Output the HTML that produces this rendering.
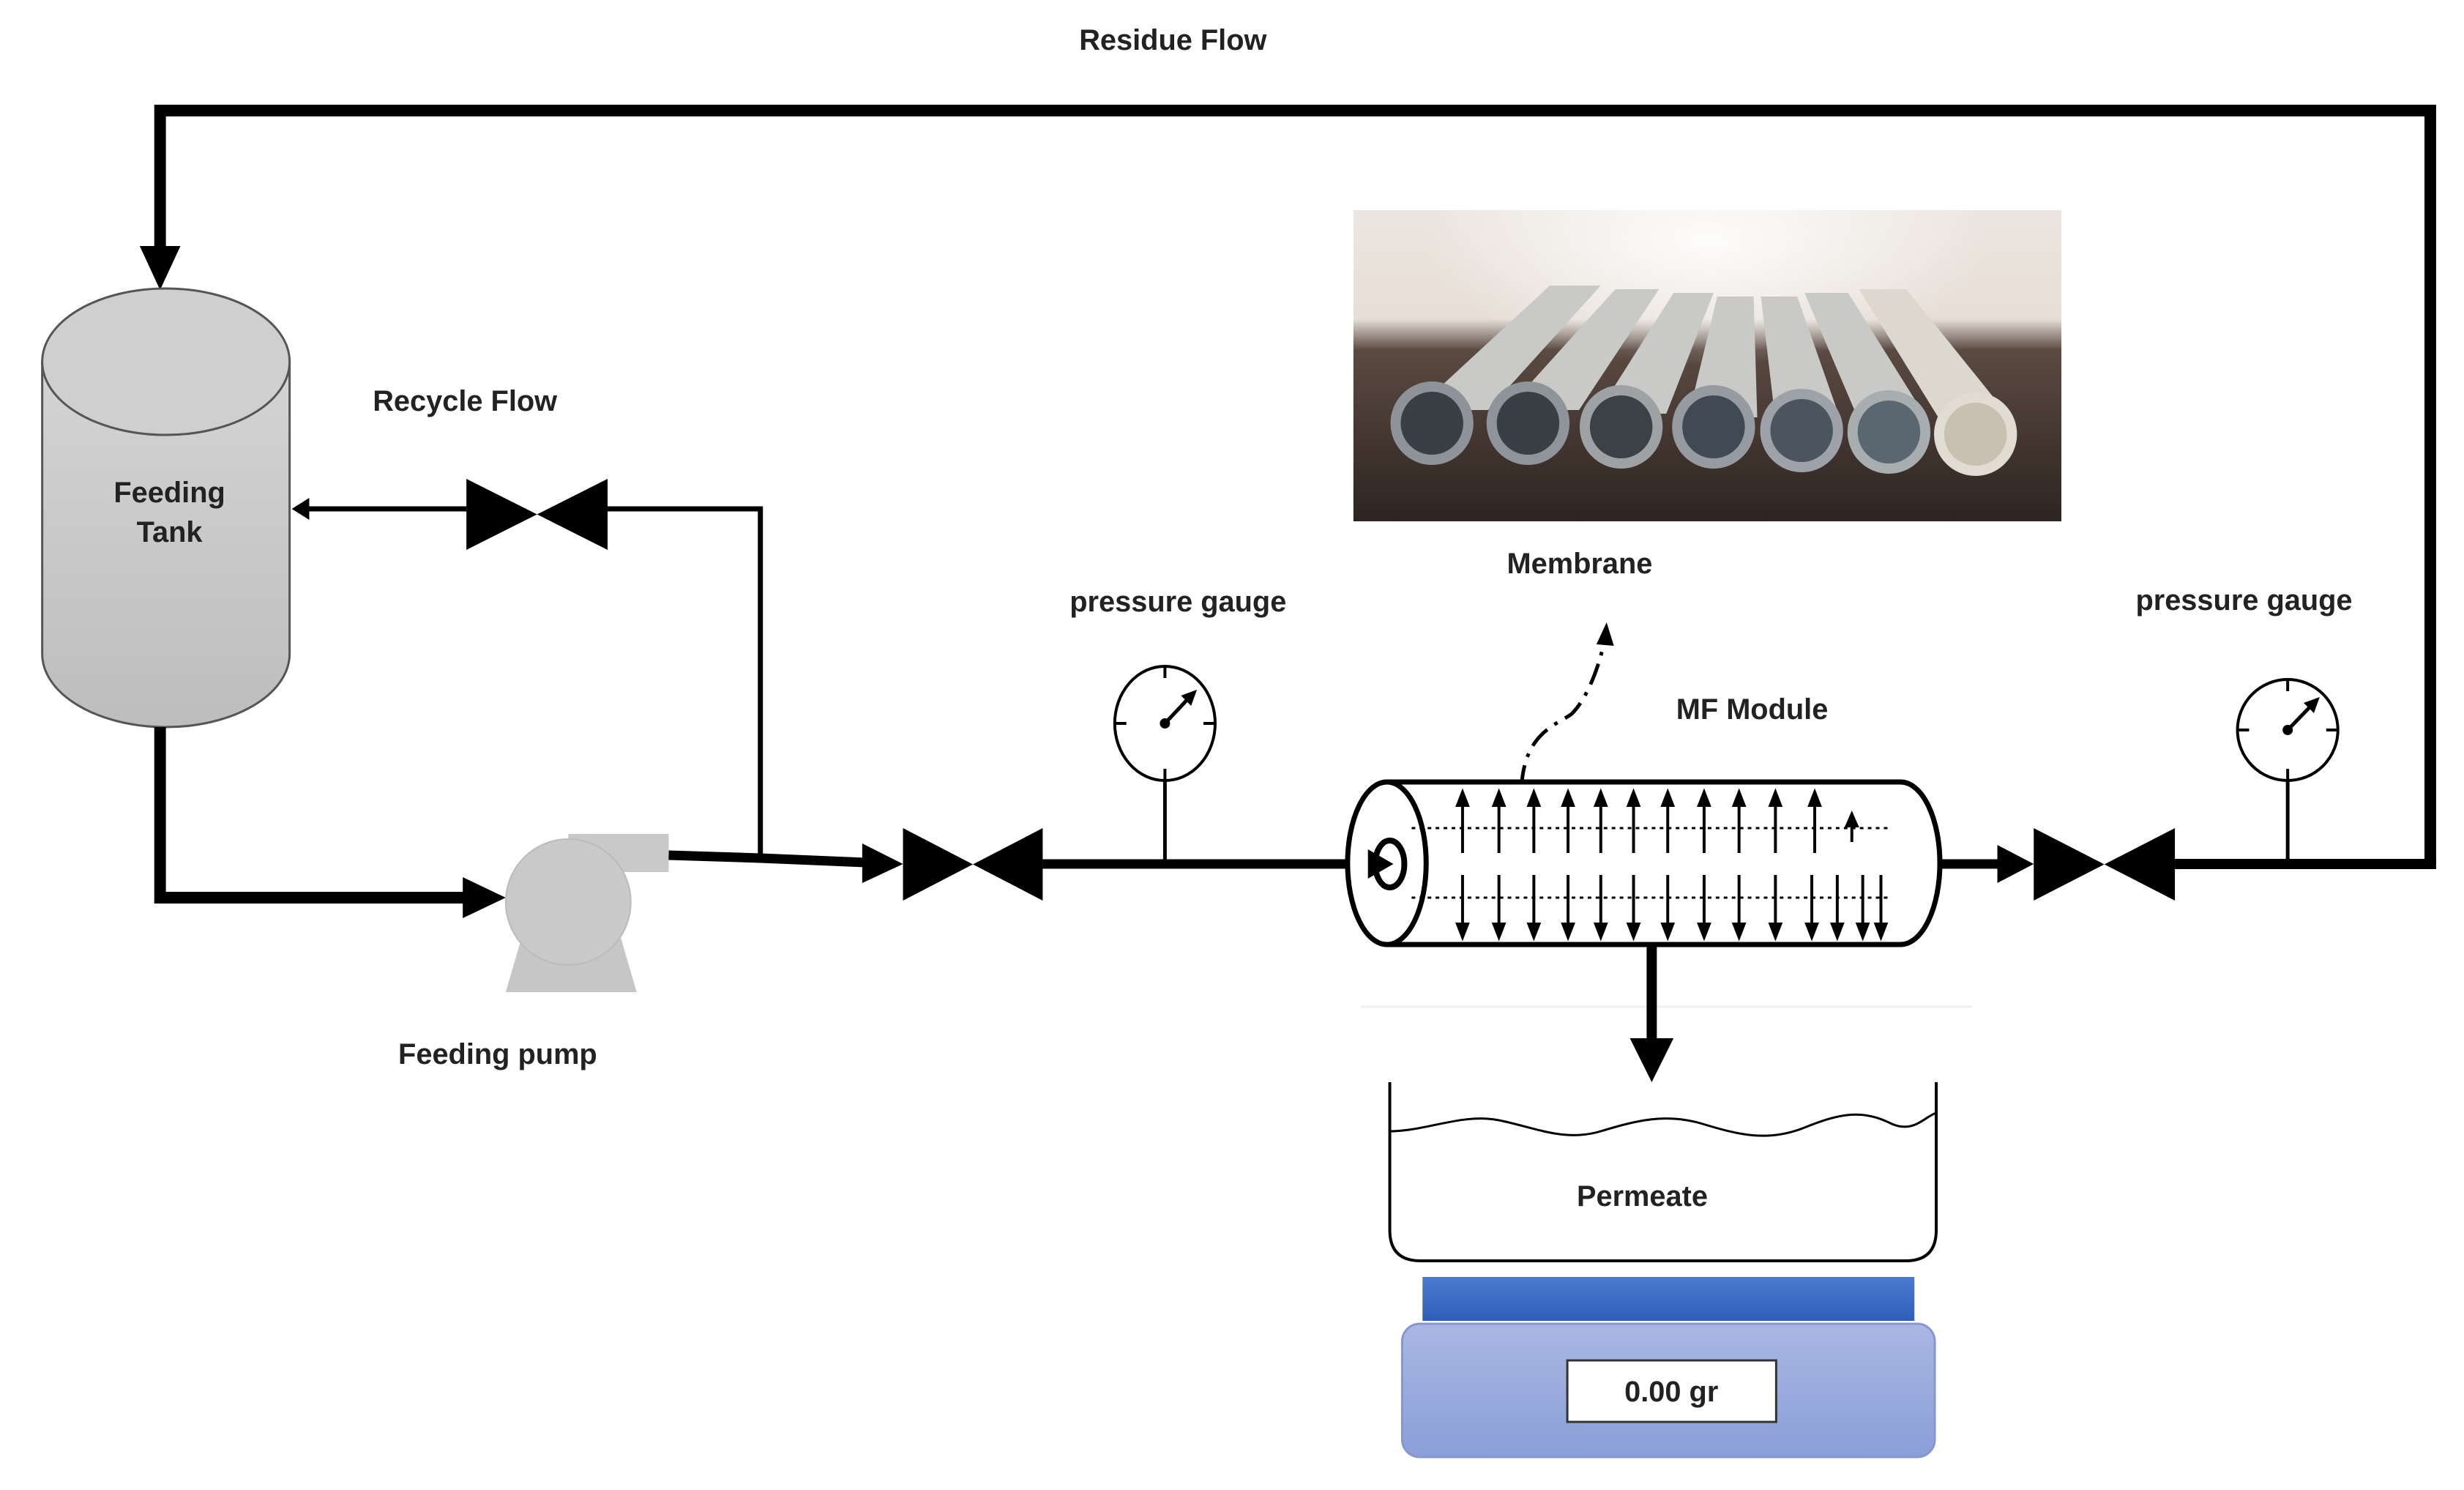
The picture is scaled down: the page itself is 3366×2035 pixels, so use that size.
<!DOCTYPE html>
<html><head><meta charset="utf-8"><style>
html,body{margin:0;padding:0;background:#fff}
svg{display:block}
text{font-family:"Liberation Sans",sans-serif;font-weight:bold;fill:#222}
</style></head><body>
<svg width="3366" height="2035" viewBox="0 0 3366 2035" xmlns="http://www.w3.org/2000/svg">
<defs>
<linearGradient id="tank" x1="0" y1="0" x2="0" y2="1"><stop offset="0" stop-color="#d4d4d4"/><stop offset="1" stop-color="#bdbdbd"/></linearGradient>
<linearGradient id="scale" x1="0" y1="0" x2="0" y2="1"><stop offset="0" stop-color="#a9b7e3"/><stop offset="1" stop-color="#8a9fd8"/></linearGradient>
<linearGradient id="bar" x1="0" y1="0" x2="0" y2="1"><stop offset="0" stop-color="#4a7bd0"/><stop offset="1" stop-color="#2f5fb8"/></linearGradient>
<linearGradient id="photo" x1="0" y1="0" x2="0" y2="1"><stop offset="0" stop-color="#ece6e0"/><stop offset="0.35" stop-color="#e6ded6"/><stop offset="0.45" stop-color="#5a4a42"/><stop offset="1" stop-color="#2e2420"/></linearGradient>
<radialGradient id="glow" cx="0.5" cy="0.1" r="0.4"><stop offset="0" stop-color="#fff" stop-opacity="0.9"/><stop offset="1" stop-color="#fff" stop-opacity="0"/></radialGradient>
</defs>
<g transform="scale(0.994,1)">
<text x="1612" y="68" font-size="40" text-anchor="middle">Residue Flow</text>
<polyline points="3340,1180 3340,151 220,151 220,340" fill="none" stroke="#000" stroke-width="16"/>
<polygon points="192,336 248,336 220,396" fill="#000"/>

<path d="M58,494 L58,893 A170,100 0 0 0 398,893 L398,494 Z" fill="url(#tank)" stroke="#555" stroke-width="3"/>
<ellipse cx="228" cy="494" rx="170" ry="100" fill="#cfcfcf" stroke="#555" stroke-width="3"/>
<text x="233" y="686" font-size="40" text-anchor="middle">Feeding</text>
<text x="233" y="740" font-size="40" text-anchor="middle">Tank</text>

<polyline points="220,993 220,1226 640,1226" fill="none" stroke="#000" stroke-width="16"/>
<polygon points="636,1198 695,1226 636,1254" fill="#000"/>

<polygon points="695,1355 875,1355 850,1270 720,1270" fill="#c6c6c6"/>
<rect x="781" y="1139" width="138" height="52" fill="#c9c9c9"/>
<circle cx="781" cy="1232" r="86" fill="#c9c9c9" stroke="#bbb" stroke-width="2"/>
<text x="684" y="1453" font-size="40" text-anchor="middle">Feeding pump</text>

<polyline points="919,1168 1045,1172 1190,1178" fill="none" stroke="#000" stroke-width="13"/>
<polygon points="1185,1152 1241,1180 1185,1206" fill="#000"/>

<polyline points="1045,1172 1045,695 835,695" fill="none" stroke="#000" stroke-width="7"/>
<line x1="641" y1="695" x2="420" y2="695" stroke="#000" stroke-width="7"/>
<polygon points="425,680 401,695 425,710" fill="#000"/>
<polygon points="641,654 641,751 835,654 835,751" fill="#000"/>
<text x="639" y="561" font-size="40" text-anchor="middle">Recycle Flow</text>

<polygon points="1241,1131 1241,1230 1433,1131 1433,1230" fill="#000"/>
<line x1="1433" y1="1180" x2="1880" y2="1180" stroke="#000" stroke-width="13"/>

<text x="1619" y="835" font-size="40" text-anchor="middle">pressure gauge</text>
<ellipse cx="1601" cy="988" rx="69" ry="78" fill="#fff" stroke="#000" stroke-width="4"/>
<line x1="1601" y1="1066" x2="1601" y2="1180" stroke="#000" stroke-width="5"/>
<line x1="1601" y1="910" x2="1601" y2="926" stroke="#000" stroke-width="4"/>
<line x1="1532" y1="988" x2="1548" y2="988" stroke="#000" stroke-width="4"/>
<line x1="1654" y1="988" x2="1670" y2="988" stroke="#000" stroke-width="4"/>
<line x1="1601" y1="1050" x2="1601" y2="1066" stroke="#000" stroke-width="4"/>
<line x1="1601" y1="988" x2="1635" y2="952" stroke="#000" stroke-width="5"/>
<polygon points="1645,942 1623,950 1637,964" fill="#000"/>
<circle cx="1601" cy="988" r="7" fill="#000"/>

<rect x="1860" y="287" width="973" height="425" fill="url(#photo)"/>
<rect x="1860" y="287" width="973" height="425" fill="url(#glow)"/>
<g fill="#c9c9c7">
<polygon points="1945,560 2045,560 2200,390 2130,390"/>
<polygon points="2070,560 2170,560 2280,395 2220,395"/>
<polygon points="2195,565 2290,565 2355,400 2300,400"/>
<polygon points="2320,570 2415,570 2410,405 2360,405"/>
<polygon points="2440,575 2530,575 2470,405 2420,405"/>
<polygon points="2555,575 2650,575 2540,400 2480,400"/>
<polygon points="2670,580 2770,580 2620,395 2555,395" fill="#dcd8d0"/>
</g>
<g stroke-width="14">
<circle cx="1968" cy="578" r="50" fill="#3a3f44" stroke="#8e9399"/>
<circle cx="2100" cy="578" r="50" fill="#3a3f44" stroke="#8f949a"/>
<circle cx="2228" cy="583" r="50" fill="#3c4146" stroke="#9ea2a4"/>
<circle cx="2355" cy="583" r="50" fill="#404a55" stroke="#969ba2"/>
<circle cx="2476" cy="588" r="50" fill="#4a5560" stroke="#9ca2a8"/>
<circle cx="2596" cy="590" r="50" fill="#5a6670" stroke="#a8adb0"/>
<circle cx="2715" cy="593" r="50" fill="#c8c0b0" stroke="#e0dcd2"/>
</g>
<text x="2171" y="783" font-size="40" text-anchor="middle">Membrane</text>
<text x="2408" y="982" font-size="40" text-anchor="middle">MF Module</text>

<path d="M2091,1075 C2095,1000 2140,990 2160,975 C2185,950 2200,900 2205,875" fill="none" stroke="#000" stroke-width="5" stroke-dasharray="30,12,5,12"/>
<polygon points="2194,880 2208,850 2218,882" fill="#000"/>

<path d="M1906,1068 L2612,1068 A54,111 0 0 1 2612,1290 L1906,1290" fill="#fff" stroke="#000" stroke-width="7"/>
<ellipse cx="1906" cy="1179" rx="54" ry="111" fill="#fff" stroke="#000" stroke-width="7"/>
<ellipse cx="1910" cy="1180" rx="20" ry="32" fill="#fff" stroke="#000" stroke-width="8"/>
<polygon points="1880,1160 1915,1180 1880,1200" fill="#000"/>
<line x1="1940" y1="1131" x2="2600" y2="1131" stroke="#000" stroke-width="3" stroke-dasharray="5,6"/>
<line x1="1940" y1="1226" x2="2600" y2="1226" stroke="#000" stroke-width="3" stroke-dasharray="5,6"/>
<g stroke="#000" stroke-width="4" fill="#000">
<line x1="2010" y1="1165" x2="2010" y2="1095"/><polygon points="2003,1100 2017,1100 2010,1082"/>
<line x1="2060" y1="1165" x2="2060" y2="1095"/><polygon points="2053,1100 2067,1100 2060,1082"/>
<line x1="2108" y1="1165" x2="2108" y2="1095"/><polygon points="2101,1100 2115,1100 2108,1082"/>
<line x1="2155" y1="1165" x2="2155" y2="1095"/><polygon points="2148,1100 2162,1100 2155,1082"/>
<line x1="2200" y1="1165" x2="2200" y2="1095"/><polygon points="2193,1100 2207,1100 2200,1082"/>
<line x1="2245" y1="1165" x2="2245" y2="1095"/><polygon points="2238,1100 2252,1100 2245,1082"/>
<line x1="2292" y1="1165" x2="2292" y2="1095"/><polygon points="2285,1100 2299,1100 2292,1082"/>
<line x1="2342" y1="1165" x2="2342" y2="1095"/><polygon points="2335,1100 2349,1100 2342,1082"/>
<line x1="2390" y1="1165" x2="2390" y2="1095"/><polygon points="2383,1100 2397,1100 2390,1082"/>
<line x1="2440" y1="1165" x2="2440" y2="1095"/><polygon points="2433,1100 2447,1100 2440,1082"/>
<line x1="2494" y1="1165" x2="2494" y2="1095"/><polygon points="2487,1100 2501,1100 2494,1082"/>
<line x1="2545" y1="1150" x2="2545" y2="1125"/><polygon points="2538,1128 2552,1128 2545,1112"/>
</g>
<g stroke="#000" stroke-width="4" fill="#000">
<line x1="2010" y1="1195" x2="2010" y2="1265"/><polygon points="2003,1262 2017,1262 2010,1280"/>
<line x1="2060" y1="1195" x2="2060" y2="1265"/><polygon points="2053,1262 2067,1262 2060,1280"/>
<line x1="2108" y1="1195" x2="2108" y2="1265"/><polygon points="2101,1262 2115,1262 2108,1280"/>
<line x1="2155" y1="1195" x2="2155" y2="1265"/><polygon points="2148,1262 2162,1262 2155,1280"/>
<line x1="2200" y1="1195" x2="2200" y2="1265"/><polygon points="2193,1262 2207,1262 2200,1280"/>
<line x1="2245" y1="1195" x2="2245" y2="1265"/><polygon points="2238,1262 2252,1262 2245,1280"/>
<line x1="2292" y1="1195" x2="2292" y2="1265"/><polygon points="2285,1262 2299,1262 2292,1280"/>
<line x1="2342" y1="1195" x2="2342" y2="1265"/><polygon points="2335,1262 2349,1262 2342,1280"/>
<line x1="2390" y1="1195" x2="2390" y2="1265"/><polygon points="2383,1262 2397,1262 2390,1280"/>
<line x1="2440" y1="1195" x2="2440" y2="1265"/><polygon points="2433,1262 2447,1262 2440,1280"/>
<line x1="2490" y1="1195" x2="2490" y2="1265"/><polygon points="2483,1262 2497,1262 2490,1280"/>
<line x1="2525" y1="1195" x2="2525" y2="1265"/><polygon points="2518,1262 2532,1262 2525,1280"/>
<line x1="2560" y1="1195" x2="2560" y2="1265"/><polygon points="2553,1262 2567,1262 2560,1280"/>
<line x1="2585" y1="1195" x2="2585" y2="1265"/><polygon points="2578,1262 2592,1262 2585,1280"/>
</g>

<line x1="2668" y1="1180" x2="2750" y2="1180" stroke="#000" stroke-width="13"/>
<polygon points="2745,1154 2795,1180 2745,1206" fill="#000"/>
<polygon points="2795,1131 2795,1230 2989,1131 2989,1230" fill="#000"/>
<line x1="2989" y1="1180" x2="3348" y2="1180" stroke="#000" stroke-width="14"/>

<text x="3084" y="833" font-size="40" text-anchor="middle">pressure gauge</text>
<circle cx="3144" cy="997" r="69" fill="#fff" stroke="#000" stroke-width="4"/>
<line x1="3144" y1="1066" x2="3144" y2="1180" stroke="#000" stroke-width="5"/>
<line x1="3144" y1="928" x2="3144" y2="944" stroke="#000" stroke-width="4"/>
<line x1="3075" y1="997" x2="3091" y2="997" stroke="#000" stroke-width="4"/>
<line x1="3197" y1="997" x2="3213" y2="997" stroke="#000" stroke-width="4"/>
<line x1="3144" y1="1050" x2="3144" y2="1066" stroke="#000" stroke-width="4"/>
<line x1="3144" y1="997" x2="3178" y2="962" stroke="#000" stroke-width="5"/>
<polygon points="3188,952 3166,960 3180,974" fill="#000"/>
<circle cx="3144" cy="997" r="7" fill="#000"/>

<line x1="1870" y1="1375" x2="2710" y2="1375" stroke="#eee" stroke-width="3"/>
<line x1="2270" y1="1290" x2="2270" y2="1420" stroke="#000" stroke-width="14"/>
<polygon points="2240,1418 2300,1418 2270,1478" fill="#000"/>
<path d="M1910,1478 L1910,1680 Q1910,1722 1952,1722 L2619,1722 Q2661,1722 2661,1680 L2661,1478" fill="none" stroke="#000" stroke-width="4"/>
<path d="M1910,1545 C1960,1545 2010,1520 2060,1530 C2110,1540 2150,1560 2200,1545 C2250,1530 2290,1520 2340,1535 C2390,1550 2430,1560 2480,1540 C2530,1520 2560,1515 2600,1535 C2630,1548 2645,1525 2661,1520" fill="none" stroke="#000" stroke-width="3"/>
<text x="2257" y="1647" font-size="40" text-anchor="middle">Permeate</text>

<rect x="1955" y="1744" width="676" height="60" fill="url(#bar)"/>
<rect x="1927" y="1808" width="732" height="182" rx="24" fill="url(#scale)" stroke="#8796cc" stroke-width="3"/>
<rect x="2154" y="1858" width="287" height="84" fill="#fff" stroke="#333" stroke-width="3"/>
<text x="2297" y="1914" font-size="40" text-anchor="middle">0.00 gr</text>
</g>
</svg>
</body></html>
